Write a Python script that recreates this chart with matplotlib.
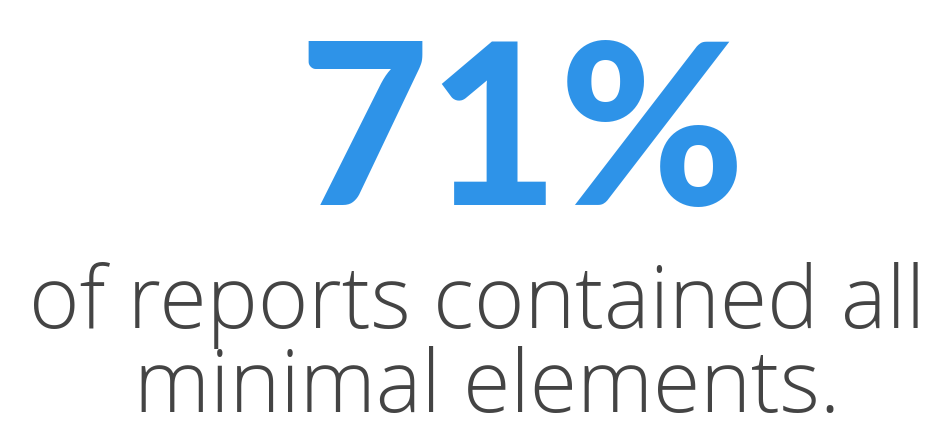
import matplotlib
matplotlib.use('Agg')
import matplotlib.pyplot as plt

# stat values
percent_value = 71
caption_lines = ['of reports contained all', 'minimal elements.']

blue = '#2E93E8'
grey = '#444444'

fig = plt.figure(figsize=(9.35, 4.25), dpi=100)
fig.patch.set_facecolor('white')

# big number
fig.text(522 / 935, 1 - 205 / 425, f'{percent_value}%', ha='center', va='baseline',
         fontsize=162, fontweight='black', family=['Lato', 'DejaVu Sans'], color=blue)

# caption
fig.text(477 / 935, 1 - 328 / 425, caption_lines[0], ha='center', va='baseline',
         fontsize=62, fontweight='light', family=['Open Sans', 'DejaVu Sans'], color=grey)
fig.text(487 / 935, 1 - 412 / 425, caption_lines[1], ha='center', va='baseline',
         fontsize=62, fontweight='light', family=['Open Sans', 'DejaVu Sans'], color=grey)

fig.savefig('out.png', dpi=100, facecolor='white')
